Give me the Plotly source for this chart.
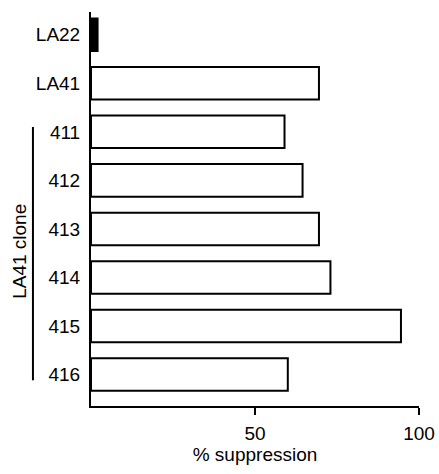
import plotly.graph_objects as go

categories = ["LA22", "LA41", "411", "412", "413", "414", "415", "416"]
suppression = [2, 69.5, 59, 64.5, 69.5, 73, 94.5, 60]
fill_colors = ["black", "white", "white", "white", "white", "white", "white", "white"]
x_tick_vals = [50, 100]
x_tick_text = ["50", "100"]

positions = list(range(len(categories)))

FONT = "Liberation Sans, Arial, Helvetica, sans-serif"

fig = go.Figure()
fig.add_trace(go.Bar(
    x=suppression,
    y=positions,
    orientation="h",
    width=0.67,
    marker=dict(color=fill_colors, line=dict(color="black", width=2)),
    hoverinfo="x+y",
))

fig.update_layout(
    width=439, height=474,
    margin=dict(l=91, r=20, t=12, b=68, autoexpand=False),
    paper_bgcolor="white", plot_bgcolor="white",
    showlegend=False,
    font=dict(family=FONT, size=19, color="black"),
    xaxis=dict(
        range=[0, 100],
        tickvals=x_tick_vals, ticktext=x_tick_text,
        ticks="outside", ticklen=7, tickwidth=2, tickcolor="black",
        showline=True, linecolor="black", linewidth=2,
        showgrid=False, zeroline=False, automargin=False,
        tickfont=dict(size=19),
        ticklabelstandoff=2,
        title=dict(text="% suppression", font=dict(size=19), standoff=0),
    ),
    yaxis=dict(
        range=[7.65, -0.47],
        tickvals=positions, ticktext=categories,
        ticks="", showline=True, linecolor="black", linewidth=2,
        showgrid=False, zeroline=False, automargin=False,
        tickfont=dict(size=19),
        ticklabelstandoff=5,
    ),
)

# group bracket for the LA41 clones
fig.add_shape(type="line", xref="paper", yref="y",
              x0=-0.177, x1=-0.177, y0=1.9, y1=7.12,
              line=dict(color="black", width=2))
fig.add_annotation(text="LA41 clone", xref="paper", yref="y",
                   x=-0.216, y=4.47, textangle=-90, showarrow=False,
                   font=dict(size=19), xanchor="center", yanchor="middle")

fig.write_html("out.html",
               config={"displayModeBar": False},
               post_script="document.body.style.margin='0';document.body.style.overflow='hidden';")
